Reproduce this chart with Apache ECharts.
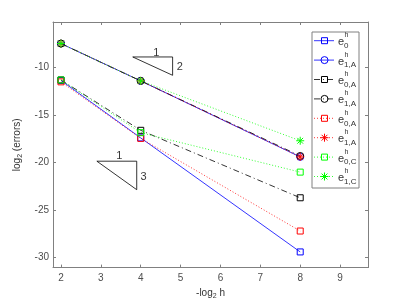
<!DOCTYPE html>
<html><head><meta charset="utf-8">
<script src="https://cdn.jsdelivr.net/npm/echarts@6/dist/echarts.min.js"></script>
<style>html,body{margin:0;padding:0;background:#fff}#c{width:407px;height:305px}</style>
</head><body><div id="c"></div>
<script>
// ---- data ----
const hLevels = [2, 4, 8];
const e0_blue   = [-11.35, -17.4, -29.4];
const e1A_blue  = [-7.47, -11.4, -19.4];
const e0A_black = [-11.3, -16.6, -23.7];
const e1A_black = [-7.47, -11.4, -19.3];
const e0A_red   = [-11.5, -17.45, -27.2];
const e1A_red   = [-7.47, -11.4, -19.4];
const e0C_green = [-11.3, -16.85, -21.0];
const e1C_green = [-7.47, -11.4, -17.7];
const legendSubs = ['0', '1,A', '0,A', '1,A', '0,A', '1,A', '0,C', '1,C'];
const xTicks = [2, 3, 4, 5, 6, 7, 8, 9];
const yTicks = [-30, -25, -20, -15, -10];
// slope triangles (annotation, data coords)
const triUpX = [3.8, 4.8, 4.8, 3.8];
const triUpY = [-8.88, -8.88, -10.81, -8.88];
const triLoX = [2.9, 3.9, 3.9, 2.9];
const triLoY = [-19.85, -19.85, -22.85, -19.85];
const triLabels = [[4.39, -8.45, '1'], [4.98, -9.94, '2'], [3.46, -19.3, '1'], [4.07, -21.5, '3']];

const star = 'path://M0,-5L0,5M-5,0L5,0M-3.6,-3.6L3.6,3.6M-3.6,3.6L3.6,-3.6';
const zip = (xs, ys) => xs.map((x, i) => [x, ys[i]]);
const colors = ['#0000ff', '#0000ff', '#000000', '#000000', '#ff0000', '#ff0000', '#00ff00', '#00ff00'];
const dashDot = [6, 3, 1, 3];
const dotted = [1, 2];
const lineTypes = ['solid', 'solid', dashDot, dashDot, dotted, dotted, dotted, dotted];
const symbols = ['rect', 'circle', 'rect', 'circle', 'rect', star, 'rect', star];
const sizes = [6, 7, 6, 7, 6, 8, 6, 8];
const values = [e0_blue, e1A_blue, e0A_black, e1A_black, e0A_red, e1A_red, e0C_green, e1C_green];

const series = values.map((ys, i) => ({
  name: 's' + i, type: 'line', data: zip(hLevels, ys),
  symbol: symbols[i], symbolSize: sizes[i],
  lineStyle: { color: colors[i], width: 0.8, type: lineTypes[i] },
  itemStyle: { color: symbols[i] === star ? colors[i] : 'transparent', borderColor: colors[i], borderWidth: 1 },
  emphasis: { disabled: true }, animation: false, z: 3
}));
function tri(xs, ys) {
  return { type: 'line', data: zip(xs, ys), symbol: 'none', lineStyle: { color: '#000', width: 0.8 }, silent: true, animation: false, z: 2 };
}
series.push(tri(triUpX, triUpY), tri(triLoX, triLoY));
series.push({
  type: 'scatter', symbolSize: 0, silent: true, animation: false,
  data: triLabels.map(t => ({ value: [t[0], t[1]], label: { show: true, formatter: t[2], position: 'inside', color: '#000', fontSize: 11, fontFamily: 'Liberation Sans' } }))
});
const names = values.map((v, i) => 's' + i);

// hand-built legend (graphic elements)
const lgLeft = 312, lgTop = 32, lgW = 47, lgH = 156, lgStep = 19.4, lgFirst = 40.7;
const lg = [{ type: 'rect', shape: { x: lgLeft, y: lgTop, width: lgW, height: lgH }, style: { fill: '#fff', stroke: '#808080', lineWidth: 1 }, z: 10 }];
names.forEach((n, i) => {
  const y = lgFirst + i * lgStep;
  const dash = Array.isArray(lineTypes[i]) ? lineTypes[i] : null;
  lg.push({ type: 'line', shape: { x1: 314, y1: y, x2: 334, y2: y }, style: { stroke: colors[i], lineWidth: 0.8, lineDash: dash }, z: 11 });
  if (symbols[i] === 'rect') {
    lg.push({ type: 'rect', shape: { x: 321.5, y: y - 3, width: 6, height: 6 }, style: { fill: 'transparent', stroke: colors[i], lineWidth: 1 }, z: 12 });
  } else if (symbols[i] === 'circle') {
    lg.push({ type: 'circle', shape: { cx: 324.5, cy: y, r: 3.5 }, style: { fill: 'transparent', stroke: colors[i], lineWidth: 1 }, z: 12 });
  } else {
    const cx = 324.5, r = 4, d = 2.9;
    [[0, -r, 0, r], [-r, 0, r, 0], [-d, -d, d, d], [-d, d, d, -d]].forEach(s => {
      lg.push({ type: 'line', shape: { x1: cx + s[0], y1: y + s[1], x2: cx + s[2], y2: y + s[3] }, style: { stroke: colors[i], lineWidth: 1 }, z: 12 });
    });
  }
  lg.push({ type: 'text', x: 338, y: y + 1.5, style: { text: 'e', font: '11px "Liberation Sans"', fill: '#333', verticalAlign: 'middle' }, z: 12 });
  lg.push({ type: 'text', x: 344.5, y: y - 5.5, style: { text: 'h', font: '7px "Liberation Sans"', fill: '#333', verticalAlign: 'middle' }, z: 12 });
  lg.push({ type: 'text', x: 344, y: y + 5, style: { text: legendSubs[i], font: '8px "Liberation Sans"', fill: '#333', verticalAlign: 'middle' }, z: 12 });
});

const chart = echarts.init(document.getElementById('c'), null, { renderer: 'canvas' });
const axisCol = '#808080';
const lblCol = '#4d4d4d';
chart.setOption({
  animation: false,
  textStyle: { fontFamily: 'Liberation Sans' },
  grid: { left: 53, right: 39, top: 22, bottom: 37 },
  xAxis: [{
    type: 'value', min: 1.8, max: 9.7,
    name: '-log{s|2} h', nameLocation: 'middle', nameGap: 19,
    nameTextStyle: { color: '#333', fontSize: 10, rich: { s: { fontSize: 7, verticalAlign: 'bottom', padding: [6, 0, 0, 0] } } },
    axisLine: { onZero: false, lineStyle: { color: axisCol } },
    axisTick: { inside: true, length: 3, customValues: xTicks, lineStyle: { color: axisCol } },
    axisLabel: { customValues: xTicks, color: lblCol, fontSize: 10, margin: 6 },
    splitLine: { show: false }
  }, {
    type: 'value', min: 1.8, max: 9.7, position: 'top',
    axisLine: { onZero: false, lineStyle: { color: axisCol } },
    axisTick: { inside: true, length: 3, customValues: xTicks, lineStyle: { color: axisCol } },
    axisLabel: { show: false }, splitLine: { show: false }
  }],
  yAxis: [{
    type: 'value', min: -31.05, max: -5.2,
    name: 'log{s|2} (errors)', nameLocation: 'middle', nameGap: 17, nameRotate: 90,
    nameTextStyle: { color: '#333', fontSize: 10, rich: { s: { fontSize: 7, verticalAlign: 'bottom', padding: [6, 0, 0, 0] } } },
    axisLine: { show: true, onZero: false, lineStyle: { color: axisCol } },
    axisTick: { show: true, inside: true, length: 3, customValues: yTicks, lineStyle: { color: axisCol } },
    axisLabel: { customValues: yTicks, color: lblCol, fontSize: 10, margin: 4 },
    splitLine: { show: false }
  }, {
    type: 'value', min: -31.05, max: -5.2, position: 'right',
    axisLine: { show: true, onZero: false, lineStyle: { color: axisCol } },
    axisTick: { show: true, inside: true, length: 3, customValues: yTicks, lineStyle: { color: axisCol } },
    axisLabel: { show: false }, splitLine: { show: false }
  }],
  graphic: lg,
  series
});
</script></body></html>
